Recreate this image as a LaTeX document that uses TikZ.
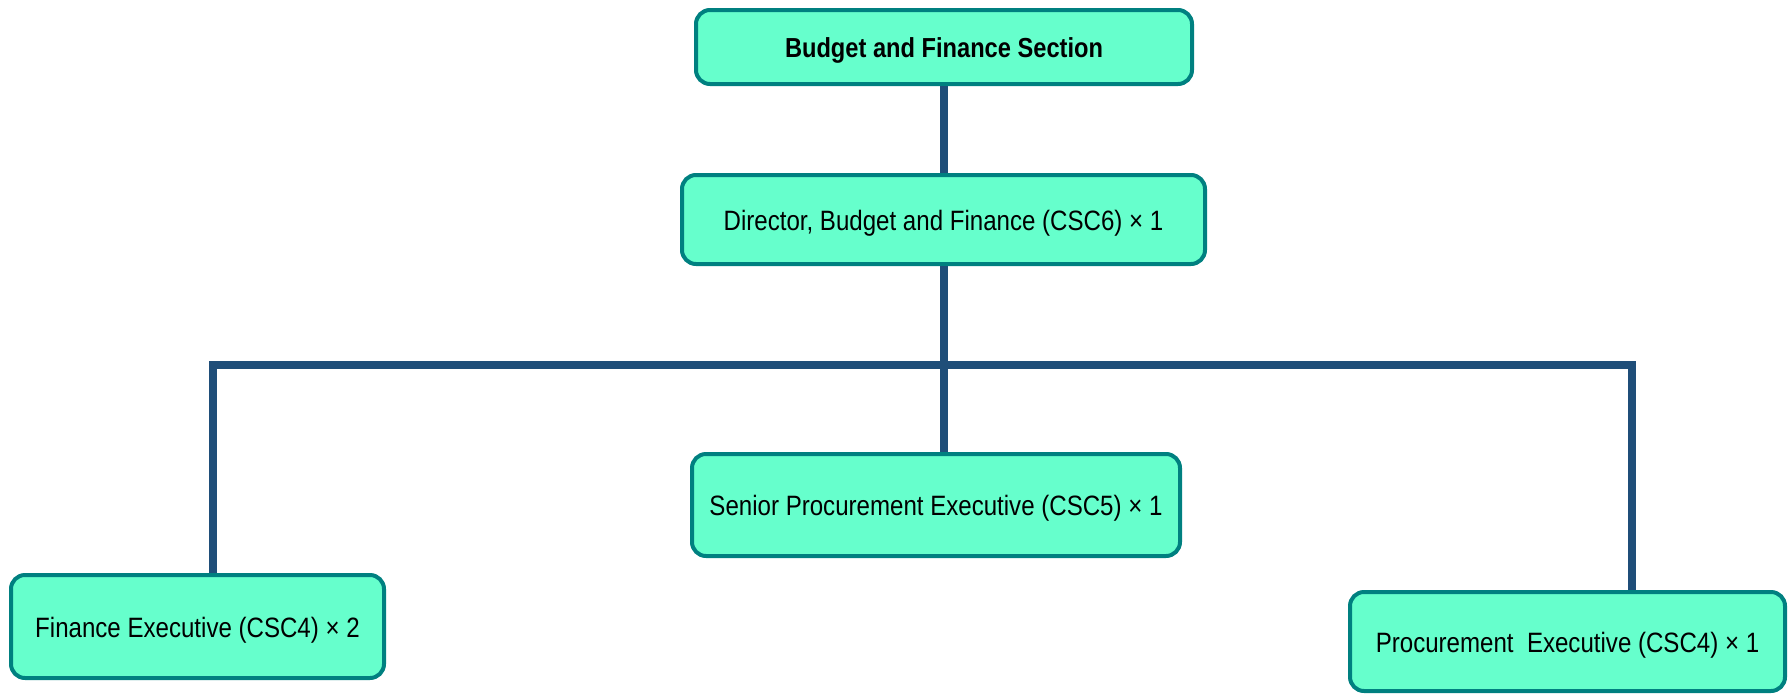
\documentclass[tikz,border=0pt]{standalone}
\usepackage{fontspec}
\newfontfamily\boxfont[FakeStretch=0.86]{Liberation Sans}
\definecolor{boxfill}{HTML}{66FFCC}
\definecolor{boxedge}{HTML}{008080}
\definecolor{linkcol}{HTML}{1F4E79}
\begin{document}
\begin{tikzpicture}[x=1pt,y=-1pt,
  orgbox/.style={draw=boxedge, fill=boxfill, line width=4pt, rounded corners=14pt,
    inner sep=0pt, text height=22pt, text depth=1pt,
    font=\boxfont\fontsize{28}{32}\selectfont, text=black},
  link/.style={draw=linkcol, line width=8pt, line join=miter}]
\useasboundingbox (0,0) rectangle (1789,697);
\node[orgbox, minimum width=496pt, minimum height=74pt, font=\boxfont\bfseries\fontsize{27.5}{32}\selectfont] (top) at (944,47) {Budget and Finance Section};
\node[orgbox, minimum width=523pt, minimum height=89pt] (dir) at (943.5,219.5) {Director, Budget and Finance (CSC6) × 1};
\node[orgbox, minimum width=488pt, minimum height=102pt] (sen) at (936,505) {Senior Procurement Executive (CSC5) × 1};
\node[orgbox, minimum width=373pt, minimum height=103pt] (fin) at (197.5,626.5) {Finance Executive (CSC4) × 2};
\node[orgbox, minimum width=435pt, minimum height=99pt] (pro) at (1567.5,641.5) {Procurement~ Executive (CSC4) × 1};
\coordinate (L) at (213,365);
\coordinate (R) at (1632,365);
\draw[link] (top.south) -- (top.south |- dir.north);
\draw[link] (dir.south) -- (dir.south |- sen.north);
\draw[link] (L |- fin.north) -- (L) -- (R) -- (R |- pro.north);
\end{tikzpicture}
\end{document}
